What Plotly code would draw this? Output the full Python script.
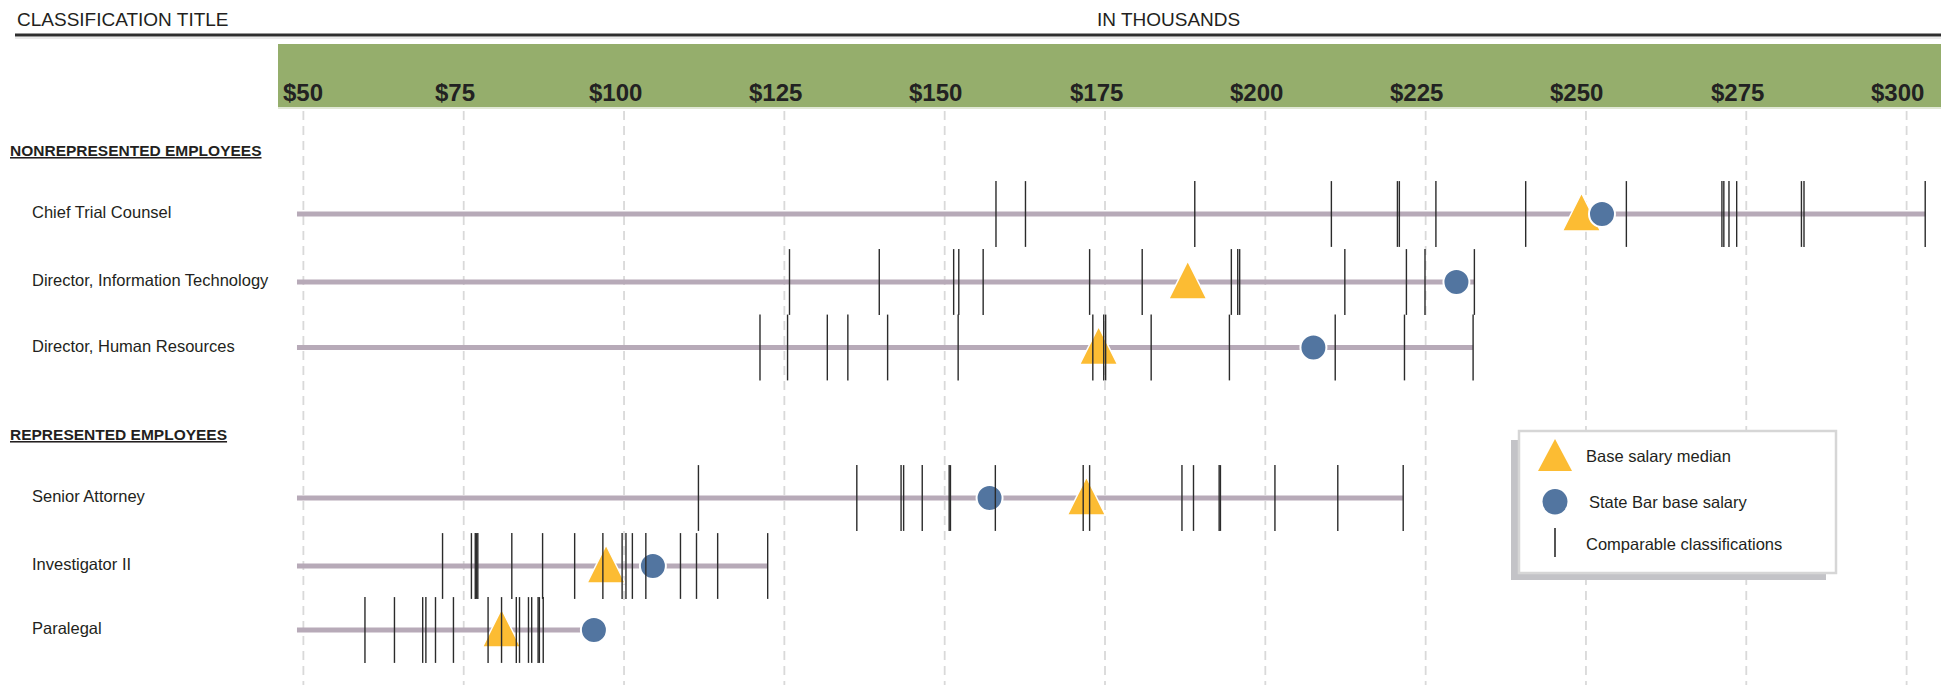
import plotly.graph_objects as go

W, H = 1949, 685

# ---------------- data (salaries in thousands of dollars) ----------------
section_titles = ["NONREPRESENTED EMPLOYEES", "REPRESENTED EMPLOYEES"]
classifications = [
    "Chief Trial Counsel",
    "Director, Information Technology",
    "Director, Human Resources",
    "Senior Attorney",
    "Investigator II",
    "Paralegal",
]
base_salary_median = [249.3, 187.9, 174.0, 172.1, 97.2, 80.9]
state_bar_base_salary = [252.5, 229.8, 207.5, 157.0, 104.5, 95.3]

comparables_chief_trial_counsel = [158.0, 162.6, 189.0, 210.3, 220.6, 220.9, 226.6, 240.6,
                                   256.3, 271.2, 271.5, 272.3, 273.5, 283.6, 284.0, 302.9]
comparables_director_it = [125.8, 139.8, 151.4, 152.2, 156.0, 172.6, 180.8, 194.7, 195.7,
                           196.0, 212.4, 222.0, 224.9, 232.6]
comparables_director_hr = [121.2, 125.5, 131.7, 134.9, 141.1, 152.1, 173.1, 174.8, 175.1,
                           182.2, 194.4, 210.9, 221.7, 232.4]
comparables_senior_attorney = [111.6, 136.3, 143.2, 143.6, 146.5, 150.7, 150.9, 157.9, 171.6,
                               172.6, 187.0, 188.8, 192.8, 193.0, 201.5, 211.3, 221.5]
comparables_investigator_ii = [71.7, 76.2, 76.8, 77.0, 77.2, 82.5, 87.3, 92.3, 96.7, 99.7,
                               100.3, 101.3, 103.4, 108.8, 111.3, 114.6, 122.4]
comparables_paralegal = [59.6, 64.2, 68.6, 69.1, 70.6, 73.4, 78.8, 80.9, 83.2, 83.7, 85.1,
                         85.6, 86.6, 86.8, 87.4]

comparables = [
    comparables_chief_trial_counsel,
    comparables_director_it,
    comparables_director_hr,
    comparables_senior_attorney,
    comparables_investigator_ii,
    comparables_paralegal,
]

tick_values = [50, 75, 100, 125, 150, 175, 200, 225, 250, 275, 300]
tick_labels = ["$50", "$75", "$100", "$125", "$150", "$175", "$200", "$225", "$250", "$275", "$300"]
scale_start = 49.0  # left end of every range bar

# ---------------- layout constants (pixels) ----------------
X_RANGE = [2.69, 306.61]
ROW_Y = [214, 282, 347.5, 498, 566, 630]
SECTION_Y = [150, 434]

FONT = "Liberation Sans, Arial, sans-serif"
INK = "#231f20"
GREEN = "#95ae6c"
BAR = "#b7aab8"
GOLD = "#fcbc33"
BLUE = "#5275a0"
TICK = "#2b2b2b"


def px(x):
    return x / W


fig = go.Figure()

# range bars
for i, name in enumerate(classifications):
    top = max(comparables[i] + [base_salary_median[i], state_bar_base_salary[i]])
    fig.add_trace(go.Scatter(
        x=[scale_start, top], y=[ROW_Y[i], ROW_Y[i]], mode="lines",
        line=dict(color=BAR, width=5), hoverinfo="skip", showlegend=False))

# base salary medians (triangle apex sits above the bar)
fig.add_trace(go.Scatter(
    x=base_salary_median, y=[y - 21 for y in ROW_Y], mode="markers",
    marker=dict(symbol="arrow-up", size=38, color=GOLD, line=dict(color="white", width=1.5)),
    name="Base salary median", showlegend=False))

# State Bar base salaries
fig.add_trace(go.Scatter(
    x=state_bar_base_salary, y=ROW_Y, mode="markers",
    marker=dict(symbol="circle", size=26, color=BLUE, line=dict(color="white", width=2)),
    name="State Bar base salary", showlegend=False))

# comparable classifications
for i, vals in enumerate(comparables):
    fig.add_trace(go.Scatter(
        x=vals, y=[ROW_Y[i]] * len(vals), mode="markers",
        marker=dict(symbol="line-ns", size=47, line=dict(color=TICK, width=1.4)),
        name="Comparable classifications", showlegend=False))

shapes = []
# dashed guide lines at every dollar tick
for v in tick_values:
    shapes.append(dict(type="line", xref="x", yref="y", x0=v, x1=v, y0=111, y1=H,
                       line=dict(color="#d9d9d9", width=1.8, dash="9px,6px"), layer="below"))

# header rule and green scale band
shapes += [
    dict(type="line", xref="paper", yref="y", x0=px(15), x1=px(1941), y0=35, y1=35,
         line=dict(color="#2e2e2e", width=3)),
    dict(type="line", xref="paper", yref="y", x0=px(15), x1=px(1941), y0=38, y1=38,
         line=dict(color="#d4d4d4", width=1)),
    dict(type="rect", xref="paper", yref="y", x0=px(278), x1=px(1941), y0=44, y1=107,
         fillcolor=GREEN, line=dict(width=0)),
    dict(type="line", xref="paper", yref="y", x0=px(278), x1=px(1941), y0=108, y1=108,
         line=dict(color="#e1e8d6", width=2)),
]

# legend panel with drop shadow
shapes += [
    dict(type="rect", xref="paper", yref="y", x0=px(1511), x1=px(1826), y0=440, y1=580,
         fillcolor="#c3c3c7", line=dict(width=0)),
    dict(type="rect", xref="paper", yref="y", x0=px(1519), x1=px(1836), y0=431, y1=573,
         fillcolor="white", line=dict(color="#d6d6d6", width=2.5)),
    dict(type="path", xref="paper", yref="y",
         path=f"M {px(1538)},471 L {px(1555)},439 L {px(1572)},471 Z",
         fillcolor=GOLD, line=dict(width=0)),
    dict(type="circle", xref="paper", yref="y", x0=px(1542.5), x1=px(1567.5), y0=489, y1=514.5,
         fillcolor=BLUE, line=dict(width=0)),
    dict(type="line", xref="paper", yref="y", x0=px(1555), x1=px(1555), y0=528, y1=557,
         line=dict(color=TICK, width=1.6)),
]

annotations = []


def text(x, y, s, size, xanchor="left", xref="paper", xshift=0, color=INK):
    annotations.append(dict(
        x=x, y=y, xref=xref, yref="y", text=s, showarrow=False, xanchor=xanchor,
        yanchor="middle", xshift=xshift, font=dict(family=FONT, size=size, color=color)))


text(px(15), 19, "CLASSIFICATION TITLE", 19)
text(px(1168), 19, "IN THOUSANDS", 19, xanchor="center")

# dollar labels sit just left of their guide line; the first one stays inside the band
for i, (v, lab) in enumerate(zip(tick_values, tick_labels)):
    text(v, 92, f"<b>{lab}</b>", 24, xanchor="center", xref="x",
         xshift=0 if i == 0 else -9, color="#222222")

for title, y in zip(section_titles, SECTION_Y):
    text(px(8), y, f"<b><u>{title}</u></b>", 15.5)

for name, y in zip(classifications, ROW_Y):
    text(px(30), y - 2, name, 16.5)

text(px(1584), 456, "Base salary median", 16.5)
text(px(1587), 502, "State Bar base salary", 16.5)
text(px(1584), 544, "Comparable classifications", 16.5)

fig.update_layout(
    width=W, height=H,
    margin=dict(l=0, r=0, t=0, b=0),
    paper_bgcolor="white", plot_bgcolor="white",
    xaxis=dict(range=X_RANGE, visible=False, fixedrange=True),
    yaxis=dict(range=[H, 0], visible=False, fixedrange=True),
    shapes=shapes, annotations=annotations,
    showlegend=False,
)

fig.write_html("out.html")
